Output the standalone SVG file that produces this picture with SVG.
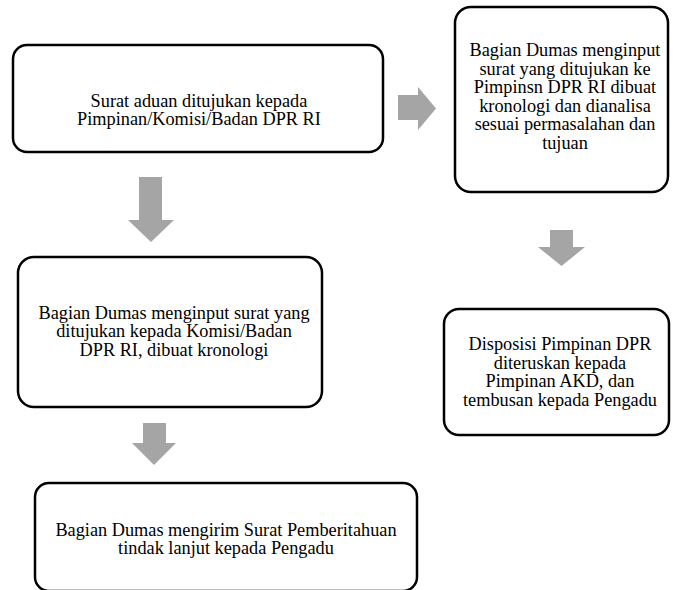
<svg xmlns="http://www.w3.org/2000/svg" width="673" height="590" viewBox="0 0 673 590">
  <style>
    .box { fill: #ffffff; stroke: #000000; stroke-width: 2.5; }
    .lbl { font-family: "Liberation Serif", "Times New Roman", serif; font-size: 18.3px; fill: #000000; text-anchor: middle; }
    .arr { fill: #a5a5a5; stroke: none; }
  </style>
  <rect width="673" height="590" fill="#ffffff"/>
  <g id="connectors">
    <polygon class="arr" points="398,95 418,95 418,87 436,108.5 418,130 418,120 398,120"/>
    <polygon class="arr" points="139,177 162,177 162,220 174,220 151,242 128,220 139,220"/>
    <polygon class="arr" points="550,230 573,230 573,247 585,247 561.5,266 538,247 550,247"/>
    <polygon class="arr" points="143,423 166,423 166,443 176,443 154,465 132,443 143,443"/>
  </g>
  <g id="node1">
    <rect class="box" x="13" y="45" width="370" height="107" rx="14" ry="14"/>
    <text class="lbl" x="199" y="106.5">Surat aduan ditujukan kepada</text>
    <text class="lbl" x="199" y="125">Pimpinan/Komisi/Badan DPR RI</text>
  </g>
  <g id="node2">
    <rect class="box" x="455" y="7" width="213" height="185" rx="16" ry="16"/>
    <text class="lbl" x="565" y="56">Bagian Dumas menginput</text>
    <text class="lbl" x="565" y="74.5">surat yang ditujukan ke</text>
    <text class="lbl" x="565" y="93">Pimpinsn DPR RI dibuat</text>
    <text class="lbl" x="565" y="111.5">kronologi dan dianalisa</text>
    <text class="lbl" x="565" y="130">sesuai permasalahan dan</text>
    <text class="lbl" x="565" y="148.5">tujuan</text>
  </g>
  <g id="node3">
    <rect class="box" x="18" y="257" width="304" height="150" rx="16" ry="16"/>
    <text class="lbl" x="174" y="318.5">Bagian Dumas menginput surat yang</text>
    <text class="lbl" x="174" y="337">ditujukan kepada Komisi/Badan</text>
    <text class="lbl" x="174" y="355.5">DPR RI, dibuat kronologi</text>
  </g>
  <g id="node4">
    <rect class="box" x="444" y="309" width="225" height="126" rx="15" ry="15"/>
    <text class="lbl" x="560" y="350">Disposisi Pimpinan DPR</text>
    <text class="lbl" x="560" y="368.5">diteruskan kepada</text>
    <text class="lbl" x="560" y="387">Pimpinan AKD, dan</text>
    <text class="lbl" x="560" y="405.5">tembusan kepada Pengadu</text>
  </g>
  <g id="node5">
    <rect class="box" x="35" y="483" width="382" height="108" rx="14" ry="14"/>
    <text class="lbl" x="226" y="535.5">Bagian Dumas mengirim Surat Pemberitahuan</text>
    <text class="lbl" x="226" y="554">tindak lanjut kepada Pengadu</text>
  </g>
</svg>
